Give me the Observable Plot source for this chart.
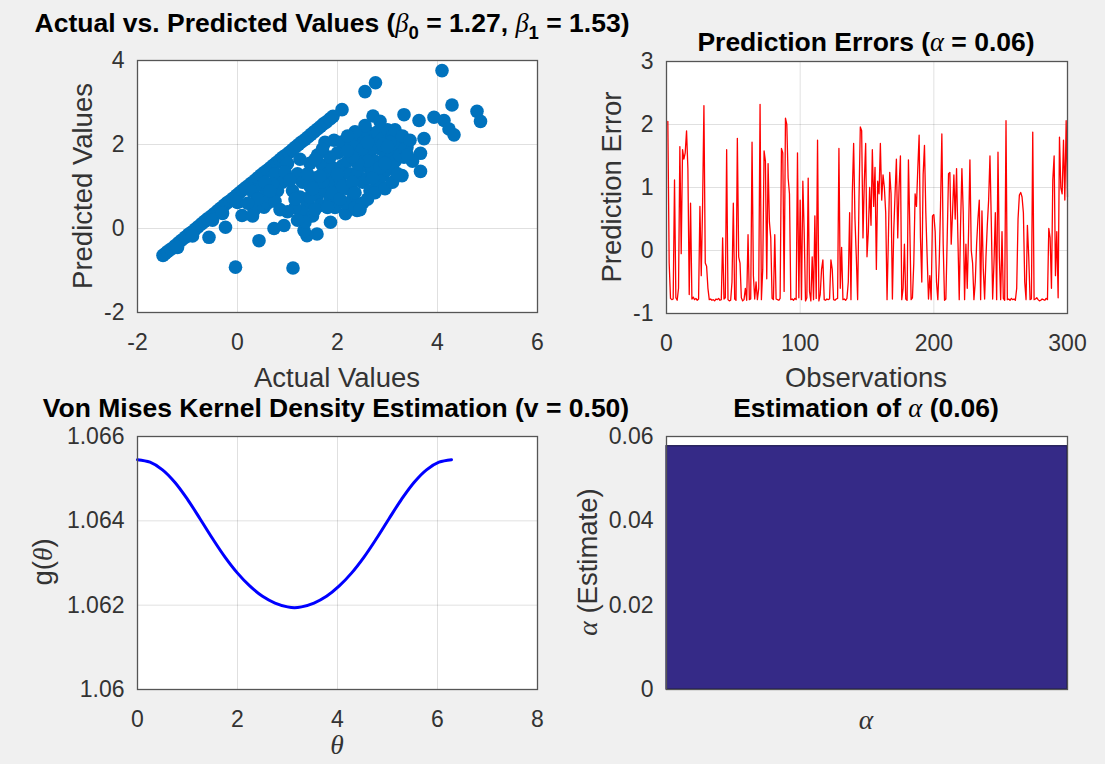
<!DOCTYPE html>
<html><head><meta charset="utf-8">
<script src="https://cdn.jsdelivr.net/npm/d3@7"></script>
<script src="https://cdn.jsdelivr.net/npm/@observablehq/plot@0.6"></script>
<style>
html,body{margin:0;padding:0;background:#f0f0f0;}
#fig{position:relative;width:1105px;height:764px;background:#f0f0f0;overflow:hidden;font-family:"Liberation Sans",Arial,sans-serif;}
.txt{position:absolute;white-space:nowrap;transform:translate(-50%,-50%);color:#333;font-size:27.5px;line-height:1;}
.rot{transform:translate(-50%,-50%) rotate(-90deg);}
.title{font-weight:bold;color:#000;font-size:26.5px;}
.gr{font-family:"Liberation Serif","Times New Roman",serif;font-style:italic;font-weight:normal;}
.sub{font-size:0.7em;vertical-align:-0.4em;}
</style></head><body><div id="fig"></div>
<script>
// ---------- data ----------
const scatterPoints = [
  // points along the upper edge line
  [-1.49,-0.64],[-1.45,-0.60],[-1.40,-0.55],[-1.33,-0.49],[-1.25,-0.41],[-1.18,-0.34],[-1.12,-0.28],
  [-1.05,-0.21],[-0.98,-0.14],[-0.92,-0.09],[-0.85,-0.02],[-0.79,0.04],[-0.72,0.11],[-0.66,0.17],
  [-0.60,0.23],[-0.53,0.29],[-0.47,0.35],[-0.40,0.42],[-0.34,0.48],[-0.27,0.55],[-0.21,0.61],
  [-0.15,0.66],[-0.09,0.72],[-0.02,0.79],[0.04,0.85],[0.10,0.91],[0.16,0.97],[0.22,1.02],[0.28,1.08],
  [0.35,1.15],[0.41,1.21],[0.47,1.27],[0.53,1.33],[0.60,1.39],[0.66,1.45],[0.72,1.51],[0.78,1.57],
  [0.85,1.64],[0.91,1.70],[0.97,1.75],[1.03,1.81],[1.10,1.88],[1.16,1.94],[1.22,2.00],[1.28,2.06],
  [1.35,2.12],[1.41,2.18],[1.47,2.24],[1.53,2.30],[1.60,2.37],[1.66,2.43],[1.72,2.49],[1.78,2.54],
  [1.85,2.61],[1.91,2.67],[2.09,2.83],
  [-1.20,-0.45],[-0.90,-0.18],[-0.50,0.20],[-0.30,0.36],[0.00,0.62],[0.30,0.88],[0.50,1.02],[0.75,1.30],[1.00,1.55],
  // scattered points
  [4.09,3.76],[2.76,3.47],[2.55,3.26],[4.29,2.94],[4.79,2.79],[4.86,2.55],[3.33,2.71],[2.71,2.68],
  [3.63,2.57],[3.93,2.65],[4.13,2.57],[4.23,2.37],[4.33,2.23],[3.73,2.14],[3.66,1.79],[3.66,1.36],
  [3.29,1.26],[3.39,1.94],[3.33,1.70],[1.93,2.10],[2.09,2.06],[1.86,0.15],[2.16,0.35],[2.39,0.43],
  [1.59,-0.13],[1.39,-0.17],[1.33,-0.05],[0.73,0.00],[0.93,0.07],[0.43,-0.29],[-0.24,0.03],[-0.57,-0.21],
  [-0.04,-0.92],[1.11,-0.94],[0.09,0.31],[0.33,0.43],[0.53,0.51],
  [1.20,1.30],[1.30,1.10],[1.10,0.90],[1.25,0.75],[1.40,0.60],[1.30,0.40],[1.15,0.50],[1.45,1.00],
  [1.55,1.20],[1.60,0.80],[1.50,0.30],[1.35,0.15],[1.70,1.50],[1.80,1.30],[1.90,1.10],[1.75,0.90],
  [1.65,0.55],[1.85,0.70],[1.95,0.50],[2.00,0.90],[2.05,1.20],[2.10,1.50],[2.00,1.80],[2.20,1.60],
  [2.25,1.30],[2.20,0.95],[2.30,0.70],[2.15,0.60],[0.90,1.10],[0.80,0.90],[0.70,1.05],[0.60,0.60],
  [0.75,0.65],[0.50,0.75],[0.95,1.35],[0.55,1.10],[1.60,1.75],[1.45,1.55],[1.75,2.05],[1.25,1.65],
  [2.40,2.20],[2.50,2.00],[2.60,2.30],[2.70,2.10],[2.80,2.30],[2.90,2.15],[3.00,2.35],[3.10,2.20],
  [3.20,2.00],[2.45,1.70],[2.55,1.50],[2.65,1.80],[2.75,1.60],[2.85,1.90],[2.95,1.70],[3.05,1.85],
  [3.15,1.60],[3.25,1.75],[3.35,1.90],[2.40,1.30],[2.50,1.10],[2.60,1.20],[2.70,1.40],[2.80,1.05],
  [2.90,1.25],[3.00,1.40],[2.65,0.90],[2.75,0.85],[2.35,0.50],[2.50,0.60],[2.45,0.45],[2.55,2.45],
  [2.85,2.55],[3.05,2.05],[2.30,1.95],[2.35,2.30],[3.10,1.45],[2.95,0.95],[2.20,2.20],
  [1.20,0.20],[1.45,0.75],[1.55,0.45],[1.70,1.10],[1.80,0.50],[1.90,0.85],[2.05,0.70],[2.10,1.00],
  [2.30,1.10],[2.35,0.85],[2.60,0.70],[2.70,1.20],[2.85,1.45],[2.95,1.55],[3.10,1.10],[3.20,1.30],
  [3.15,2.35],[3.30,2.20],[3.45,2.10],[3.50,1.60],[2.50,1.90],[2.60,1.60],[2.40,1.55],[2.30,1.70],
  [2.75,2.00],[2.90,2.00],[3.00,1.95],[3.40,1.75],[2.20,1.85],[2.60,2.05],[1.05,1.15],[1.15,0.70],
  [1.00,0.40],[0.85,0.45],[0.65,0.90],[0.40,0.70],[0.20,0.60],[0.30,0.30],[1.40,1.30],[1.50,0.95],
  [1.65,1.25],[1.90,1.45],[2.00,1.30],[1.85,1.70],[1.70,1.90],[1.55,1.65]
];
const xTicksScatter = [-2, 0, 2, 4, 6];
const yTicksScatter = [-2, 0, 2, 4];

const predictionErrors = [
  2.05,-0.2,-0.76,-0.78,-0.77,1.12,-0.75,-0.79,-0.6,1.65,-0.05,1.6,1.45,1.55,1.9,1.3,-0.7,0.75,-0.77,-0.74,
  -0.78,-0.76,-0.79,-0.77,0.7,-0.4,0.72,2.3,-0.2,-0.25,-0.6,-0.78,-0.77,-0.79,-0.78,-0.8,-0.77,-0.78,-0.76,-0.79,
  -0.78,0.2,-0.77,-0.75,1.6,-0.78,-0.8,-0.79,-0.5,0.75,-0.77,-0.79,1.78,-0.1,-0.2,-0.75,-0.8,-0.78,-0.6,-0.79,
  0.25,-0.78,-0.77,1.72,-0.4,-0.77,-0.5,-0.78,-0.6,2.32,-0.78,-0.3,1.58,1.42,-0.45,1.38,0.45,0.2,-0.76,-0.78,
  0.25,-0.77,-0.78,-0.79,-0.76,1.62,1.55,-0.65,2.1,2.0,1.15,0.9,-0.78,-0.77,-0.79,-0.76,-0.78,1.55,-0.75,0.8,
  -0.78,1.1,0.3,-0.8,-0.75,1.15,-0.65,-0.8,-0.1,-0.78,0.55,-0.76,1.75,-0.8,-0.7,-0.3,-0.15,-0.78,-0.79,-0.77,
  -0.78,-0.77,-0.15,-0.3,-0.78,-0.79,-0.77,-0.76,1.62,-0.6,0.05,-0.78,-0.77,-0.79,-0.76,-0.5,0.6,-0.78,0.9,1.7,
  0.5,-0.1,-0.78,0.8,1.96,1.9,0.2,1.1,1.7,-0.1,0.3,1.0,0.4,1.6,0.7,1.32,-0.3,1.1,0.9,1.7,
  0.8,1.2,1.0,0.6,-0.78,0.2,1.24,0.9,-0.77,0.3,0.9,1.45,0.2,1.0,1.5,-0.78,-0.6,0.1,-0.77,-0.79,
  1.44,0.4,-0.78,-0.75,-0.2,0.9,0.7,1.3,1.83,0.2,-0.5,1.2,1.67,0.6,-0.1,-0.77,-0.4,-0.78,0.55,0.57,
  0.3,-0.5,-0.78,-0.2,0.7,1.85,0.1,-0.79,-0.77,0.2,1.22,1.24,0.1,0.6,1.2,0.5,1.3,0.2,-0.78,0.4,
  1.3,0.6,-0.78,0.1,-0.6,0.3,1.44,0.0,-0.2,-0.78,-0.5,0.1,0.5,0.8,-0.78,0.63,-0.3,-0.77,-0.1,0.4,
  0.8,1.5,0.45,-0.77,-0.2,0.6,-0.78,1.56,-0.1,-0.78,0.3,-0.76,-0.79,2.06,-0.78,-0.77,-0.79,-0.76,-0.78,-0.77,
  -0.79,-0.6,0.5,0.88,0.92,0.85,0.6,-0.5,-0.78,0.4,-0.1,-0.78,-0.77,1.88,-0.78,-0.77,-0.75,-0.78,-0.8,-0.79,
  -0.77,-0.78,-0.79,-0.76,-0.78,0.35,0.2,-0.6,1.12,1.5,-0.4,0.3,-0.75,1.8,1.0,0.9,1.75,0.8,2.06,0.85
];
const xTicksErrors = [0, 100, 200, 300];
const yTicksErrors = [-1, 0, 1, 2, 3];

const thetaVals = [0, 0.25, 0.5, 0.75, 1.0, 1.25, 1.5, 1.75, 2.0, 2.25, 2.5, 2.75, 3.0, 3.14,
                   3.28, 3.53, 3.78, 4.03, 4.28, 4.53, 4.78, 5.03, 5.28, 5.53, 5.78, 6.03, 6.28];
const gVals = [1.06545, 1.06539, 1.06521, 1.06491, 1.06451, 1.06405, 1.06358, 1.06314, 1.06276, 1.06245,
               1.06221, 1.06205, 1.06196, 1.06194, 1.06196, 1.06205, 1.06221, 1.06245, 1.06276, 1.06314,
               1.06358, 1.06405, 1.06451, 1.06491, 1.06521, 1.06539, 1.06545];
const xTicksKde = [0, 2, 4, 6, 8];
const yTicksKde = [1.06, 1.062, 1.064, 1.066];

const alphaCategories = ["α"];
const alphaValues = [0.0577];
const yTicksAlpha = [0, 0.02, 0.04, 0.06];

// ---------- layout helpers ----------
const fig = document.getElementById("fig");
const FONT = '"Liberation Sans", Arial, sans-serif';
const fmt = d => String(+d.toFixed(4));

function panel({x0, y0, w, h, x, y, marks}) {
  const ml = 100, mr = 20, mt = 10, mb = 45;
  const svg = Plot.plot({
    width: w + ml + mr, height: h + mt + mb,
    marginLeft: ml, marginRight: mr, marginTop: mt, marginBottom: mb,
    x, y,
    style: {background: "transparent", fontFamily: FONT, fontSize: "23px", color: "#333", overflow: "visible"},
    marks
  });
  svg.style.position = "absolute";
  svg.style.left = (x0 - ml) + "px";
  svg.style.top = (y0 - mt) + "px";
  fig.appendChild(svg);
}
function text(html, x, y, cls = "") {
  const d = document.createElement("div");
  d.className = "txt " + cls;
  d.innerHTML = html;
  d.style.left = x + "px";
  d.style.top = y + "px";
  fig.appendChild(d);
}
const gridStyle = {stroke: "#000", strokeOpacity: 0.12, strokeWidth: 1};
const frameStyle = {stroke: "#555", strokeWidth: 1.3};

// ---------- panel 1: scatter ----------
panel({
  x0: 137, y0: 60, w: 400, h: 252,
  x: {domain: [-2, 6]}, y: {domain: [-2, 4]},
  marks: [
    Plot.frame({fill: "white", stroke: "none"}),
    Plot.gridX({ticks: xTicksScatter, ...gridStyle}),
    Plot.gridY({ticks: yTicksScatter, ...gridStyle}),
    Plot.dot(scatterPoints, {x: d => d[0], y: d => d[1], r: 6.8, fill: "#0072BD", stroke: "none"}),
    Plot.frame(frameStyle),
    Plot.axisX({ticks: xTicksScatter, tickSize: 0, tickPadding: 21, tickFormat: fmt, label: null}),
    Plot.axisY({ticks: yTicksScatter, tickSize: 0, tickPadding: 13, tickFormat: fmt, label: null})
  ]
});

// ---------- panel 2: prediction errors ----------
panel({
  x0: 666, y0: 61, w: 401, h: 252,
  x: {domain: [0, 300]}, y: {domain: [-1, 3]},
  marks: [
    Plot.frame({fill: "white", stroke: "none"}),
    Plot.gridX({ticks: xTicksErrors, ...gridStyle}),
    Plot.gridY({ticks: yTicksErrors, ...gridStyle}),
    Plot.lineY(predictionErrors, {x: (d, i) => i + 1, y: d => d, stroke: "#ff0000", strokeWidth: 1.3}),
    Plot.frame(frameStyle),
    Plot.axisX({ticks: xTicksErrors, tickSize: 0, tickPadding: 21, tickFormat: fmt, label: null}),
    Plot.axisY({ticks: yTicksErrors, tickSize: 0, tickPadding: 13, tickFormat: fmt, label: null})
  ]
});

// ---------- panel 3: von Mises KDE ----------
panel({
  x0: 137, y0: 436, w: 400, h: 253,
  x: {domain: [0, 8]}, y: {domain: [1.06, 1.066]},
  marks: [
    Plot.frame({fill: "white", stroke: "none"}),
    Plot.gridX({ticks: xTicksKde, ...gridStyle}),
    Plot.gridY({ticks: yTicksKde, ...gridStyle}),
    Plot.line(thetaVals, {x: thetaVals, y: gVals, stroke: "#0000ff", strokeWidth: 3, curve: "catmull-rom"}),
    Plot.frame(frameStyle),
    Plot.axisX({ticks: xTicksKde, tickSize: 0, tickPadding: 21, tickFormat: fmt, label: null}),
    Plot.axisY({ticks: yTicksKde, tickSize: 0, tickPadding: 13, tickFormat: fmt, label: null})
  ]
});

// ---------- panel 4: alpha estimate bar ----------
panel({
  x0: 666, y0: 436, w: 401, h: 253,
  x: {type: "band", domain: alphaCategories, padding: 0, axis: null}, y: {domain: [0, 0.06]},
  marks: [
    Plot.frame({fill: "white", stroke: "none"}),
    Plot.gridY({ticks: yTicksAlpha, ...gridStyle}),
    Plot.barY(alphaCategories, {x: alphaCategories, y: alphaValues, fill: "#352a87", stroke: "#1c1850", strokeWidth: 1.2}),
    Plot.frame(frameStyle),
    Plot.axisY({ticks: yTicksAlpha, tickSize: 0, tickPadding: 13, tickFormat: fmt, label: null})
  ]
});

// ---------- titles and axis labels ----------
text('Actual vs. Predicted Values (<span class="gr">β</span><span class="sub">0</span> = 1.27, <span class="gr">β</span><span class="sub">1</span> = 1.53)', 332, 26, "title");
text('Prediction Errors (<span class="gr">α</span> = 0.06)', 866, 42, "title");
text('Von Mises Kernel Density Estimation (v = 0.50)', 336, 408, "title");
text('Estimation of <span class="gr">α</span> (0.06)', 866, 408, "title");

text('Actual Values', 337, 378);
text('Predicted Values', 83, 186, "rot");
text('Observations', 866, 378);
text('Prediction Error', 612, 187, "rot");
text('<span class="gr">θ</span>', 337, 745);
text('g(<span class="gr">θ</span>)', 43, 562, "rot");
text('<span class="gr">α</span>', 866, 720);
text('<span class="gr">α</span> (Estimate)', 588, 562, "rot");
</script></body></html>
